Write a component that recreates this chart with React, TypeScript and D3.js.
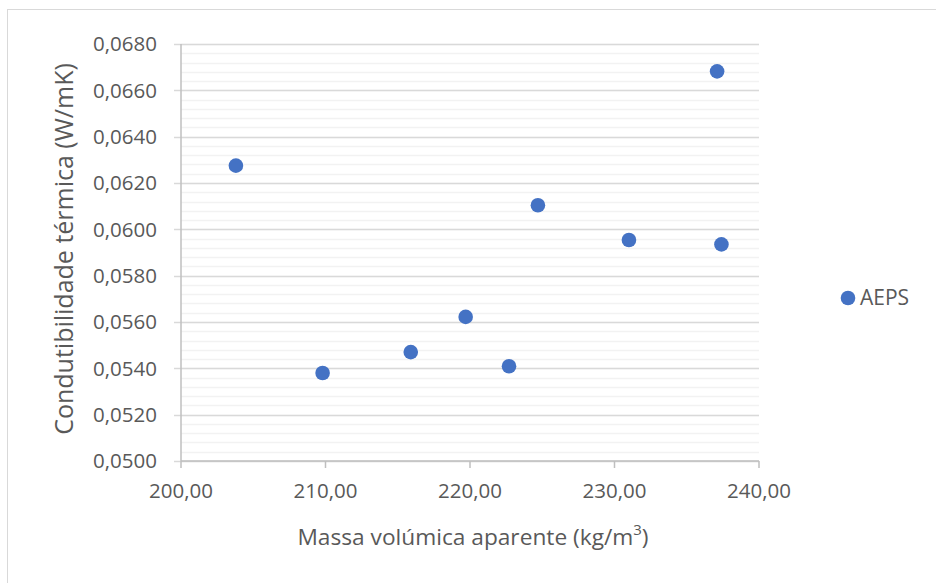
import React from "react";
import * as d3 from "d3";

// AEPS samples: apparent density (kg/m3) vs thermal conductivity (W/mK)
const density = [203.8, 209.8, 215.9, 219.7, 222.7, 224.7, 231.0, 237.1, 237.4];
const conductivity = [0.06275, 0.0538, 0.0547, 0.05622, 0.05409, 0.06104, 0.05954, 0.06682, 0.05935];
const seriesName = "AEPS";
const xTicks = [200, 210, 220, 230, 240];
const yTicks = [0.05, 0.052, 0.054, 0.056, 0.058, 0.06, 0.062, 0.064, 0.066, 0.068];

const W = 936;
const H = 583;
const margin = { left: 181, top: 44, right: 177, bottom: 122 };
const textColor = "#595959";
const blue = "#4472C4";
const font = "'Open Sans', sans-serif";

const fmt = (v: number, d: number) => v.toFixed(d).replace(".", ",");

export default function App() {
  const x = d3.scaleLinear().domain([200, 240]).range([margin.left, W - margin.right]);
  const y = d3.scaleLinear().domain([0.05, 0.068]).range([H - margin.bottom, margin.top]);

  const minor = d3.range(0, 46).map((i) => 0.05 + i * 0.0004).filter((v) => v <= 0.06801);

  return (
    <svg width={W} height={H} style={{ position: "absolute", left: 0, top: 0 }} fontFamily={font}>
      <rect x={0} y={0} width={W} height={H} fill="#fff" />
      <rect x={7.5} y={9.5} width={940} height={590} fill="none" stroke="#d9d9d9" />

      {/* minor gridlines */}
      {minor.map((v, i) => (
        <line key={"m" + i} x1={x(200)} x2={x(240)} y1={Math.round(y(v)) + 0.5} y2={Math.round(y(v)) + 0.5} stroke="#f2f2f2" strokeWidth={1.5} />
      ))}
      {/* major gridlines */}
      {yTicks.map((v) => (
        <line key={"g" + v} x1={x(200) - 7} x2={x(240)} y1={Math.round(y(v)) + 0.5} y2={Math.round(y(v)) + 0.5} stroke="#d9d9d9" strokeWidth={1.5} />
      ))}
      {/* axes */}
      <line x1={x(200)} x2={x(200)} y1={y(0.068)} y2={y(0.05)} stroke="#bfbfbf" strokeWidth={1.5} />
      <line x1={x(200)} x2={x(240)} y1={y(0.05)} y2={y(0.05)} stroke="#bfbfbf" strokeWidth={1.5} />
      {xTicks.map((v) => (
        <line key={"xt" + v} x1={x(v)} x2={x(v)} y1={y(0.05)} y2={y(0.05) + 7} stroke="#bfbfbf" strokeWidth={1.5} />
      ))}

      {/* tick labels */}
      {yTicks.map((v) => (
        <text key={"yl" + v} x={157} y={y(v)} dy="0.35em" textAnchor="end" fontSize={20.5} fill={textColor}>
          {fmt(v, 4)}
        </text>
      ))}
      {xTicks.map((v) => (
        <text key={"xl" + v} x={x(v)} y={491} dy="0.35em" textAnchor="middle" fontSize={20.5} fill={textColor}>
          {fmt(v, 2)}
        </text>
      ))}

      {/* axis titles */}
      <text x={(x(200) + x(240)) / 2 + 3} y={537} dy="0.35em" textAnchor="middle" fontSize={22.7} fill={textColor}>
        Massa volúmica aparente (kg/m<tspan baselineShift="super" fontSize={15}>3</tspan>)
      </text>
      <text transform={`translate(64.5,249) rotate(-90)`} dy="0.35em" textAnchor="middle" fontSize={25} fill={textColor}>
        Condutibilidade térmica (W/mK)
      </text>

      {/* points */}
      {density.map((d, i) => (
        <circle key={"p" + i} cx={x(d)} cy={y(conductivity[i])} r={7.3} fill={blue} />
      ))}

      {/* legend */}
      <circle cx={848} cy={298} r={7.3} fill={blue} />
      <text x={860} y={298} dy="0.35em" fontSize={21} fill={textColor}>{seriesName}</text>
    </svg>
  );
}
